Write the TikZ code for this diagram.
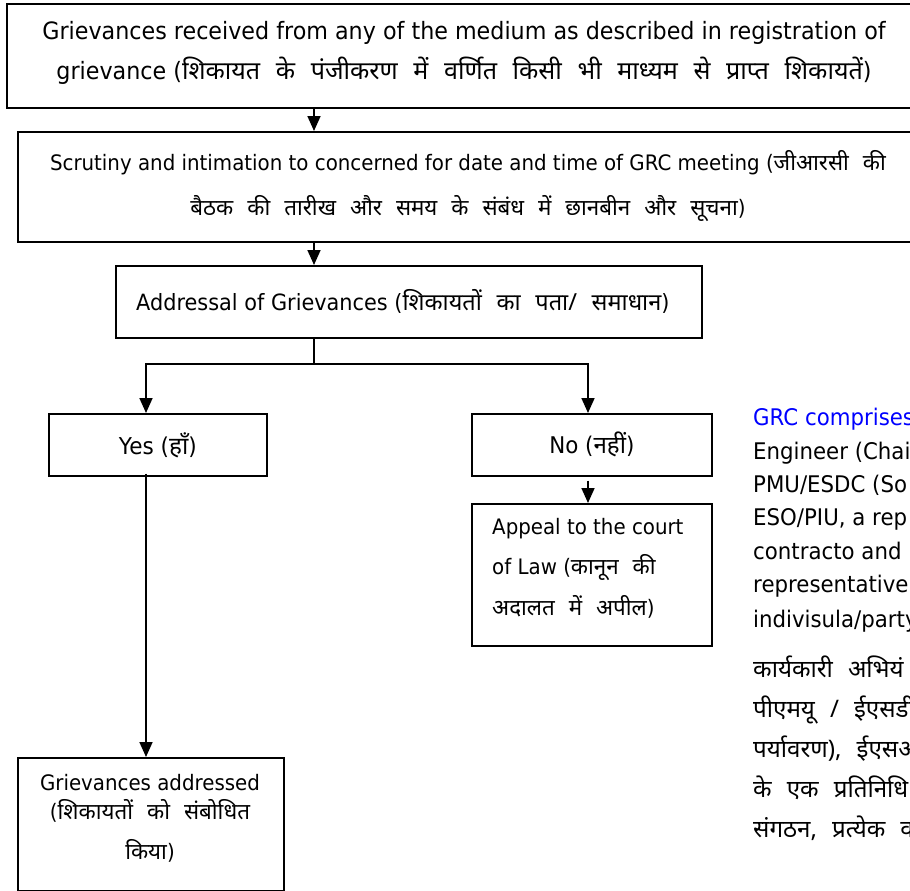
\documentclass[tikz,border=0pt]{standalone}
\usepackage{fontspec}
\setmainfont{DejaVu Sans}[FakeStretch=0.93]
\newfontfamily\hindifont[Script=Devanagari,WordSpace=2.4,Scale=1.05]{Noto Sans}
\newcommand\hi[1]{{\hindifont #1}}
\usetikzlibrary{arrows.meta}
\begin{document}
\begin{tikzpicture}[x=1pt,y=-1pt,
  box/.style={draw, line width=1.7pt, rectangle, inner sep=0pt, anchor=north west},
  txt/.style={inner sep=0pt},
  boxt/.style={draw, line width=1.7pt, rectangle, inner sep=0pt, anchor=north west, align=center},
  arr/.style={line width=1.7pt, -{Triangle[length=15pt,width=13pt]}},
  ln/.style={line width=1.7pt},
  side/.style={inner sep=0pt, anchor=base west, font=\fontsize{22.9}{30}\selectfont},
  sideh/.style={inner sep=0pt, anchor=base west, font=\fontsize{23}{30}\hindifont}]
\useasboundingbox (0,0) rectangle (910,891);
\clip (0,0) rectangle (910,891);
\coordinate (sp) at (314,0);
\coordinate (yx) at (146,0);
\coordinate (nx) at (588,0);
% boxes
\node[box, minimum width=930, minimum height=104] (b1) at (6,3) {};
\node[txt, align=center, font=\fontsize{23.9}{40}\selectfont] (t1) at (464,53) {Grievances received from any of the medium as described in registration of\\grievance (\hi{शिकायत के पंजीकरण में वर्णित किसी भी माध्यम से प्राप्त शिकायतें})};
\node[box, minimum width=920, minimum height=110] (b2) at (17,131) {};
\node[txt, align=center, font=\fontsize{21.3}{45}\selectfont] (t2) at (468,186) {Scrutiny and intimation to concerned for date and time of GRC meeting (\hi{जीआरसी की}\\\hi{बैठक की तारीख और समय के संबंध में छानबीन और सूचना})};
\node[box, minimum width=586, minimum height=72] (b3) at (115,265) {};
\node[txt, anchor=west, font=\fontsize{22.4}{40}\selectfont] (t3) at (136,301) {Addressal of Grievances (\hi{शिकायतों का पता/ समाधान})};
\node[boxt, minimum width=218, minimum height=62, font=\fontsize{23.2}{40}\selectfont] (yes) at (48,413) {Yes (\hi{हाँ})};
\node[boxt, minimum width=240, minimum height=62, font=\fontsize{23}{40}\selectfont] (no) at (471,413) {No (\hi{नहीं})};
\node[box, minimum width=240, minimum height=142] (ap) at (471,503) {};
\node[txt, align=left, anchor=west, font=\fontsize{21.3}{40.5}\selectfont] (apt) at (492,568) {Appeal to the court\\of Law (\hi{कानून की}\\\hi{अदालत में अपील})};
\node[box, minimum width=266, minimum height=133] (ga) at (17,757) {};
\node[txt, align=center, font=\fontsize{21.3}{29}\selectfont] (gat) at (150,818) {Grievances addressed\\(\hi{शिकायतों को संबोधित}\\[11pt]\hi{किया})};
% connectors
\coordinate (br) at (314,364);
\draw[arr] (b1.south -| sp) -- (b2.north -| sp);
\draw[arr] (b2.south -| sp) -- (b3.north -| sp);
\draw[ln] (b3.south -| sp) -- (br);
\draw[arr] (br) -| (yes.north -| yx);
\draw[arr] (br) -| (no.north -| nx);
\draw[arr] ([yshift=-4pt]no.south -| nx) -- (ap.north -| nx);
\draw[arr] ([yshift=3pt]yes.south -| yx) -- (ga.north -| yx);
% side text
\node[side, text=blue] (r1) at (753,425) {GRC comprises};
\node[side] (r2) at (753,459) {Engineer (Chai};
\node[side] (r3) at (753,492) {PMU/ESDC (So};
\node[side] (r4) at (753,525) {ESO/PIU, a rep};
\node[side] (r5) at (753,559) {contracto and l};
\node[side] (r6) at (753,592) {representative};
\node[side] (r7) at (753,627) {indivisula/party};
\node[sideh] (r8) at (753,677) {कार्यकारी अभियं};
\node[sideh] (r9) at (753,717) {पीएमयू / ईएसडी};
\node[sideh] (r10) at (753,757) {पर्यावरण), ईएसओ};
\node[sideh] (r11) at (753,797) {के एक प्रतिनिधि};
\node[sideh] (r12) at (753,837) {संगठन, प्रत्येक व};
\end{tikzpicture}
\end{document}
